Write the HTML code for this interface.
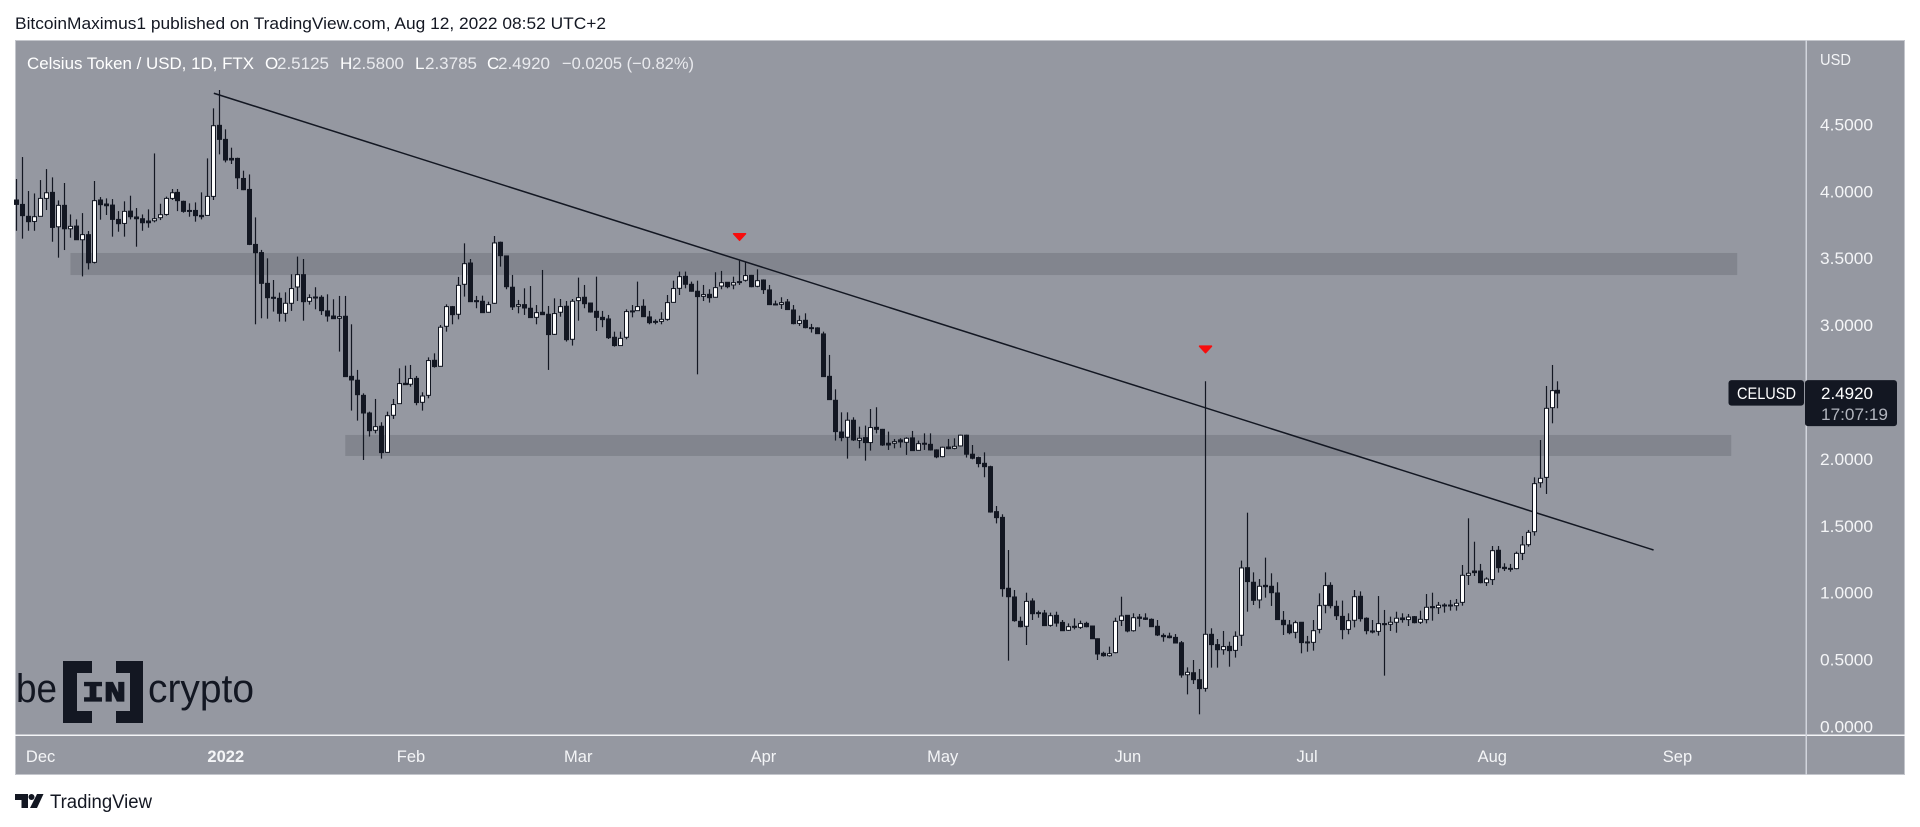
<!DOCTYPE html>
<html lang="en">
<head>
<meta charset="utf-8">
<title>Celsius Token / USD chart</title>
<style>
html,body{margin:0;padding:0;background:#fff;width:1920px;height:827px;overflow:hidden}
svg{display:block}
text{font-family:"Liberation Sans",sans-serif}
</style>
</head>
<body>
<svg id="chart" width="1920" height="827" viewBox="0 0 1920 827" xmlns="http://www.w3.org/2000/svg">
  <rect x="0" y="0" width="1920" height="827" fill="#ffffff"/>
  <text x="15" y="29" font-size="17" fill="#131722" textLength="591" lengthAdjust="spacingAndGlyphs">BitcoinMaximus1 published on TradingView.com, Aug 12, 2022 08:52 UTC+2</text>

  <rect x="15" y="40" width="1890" height="735" fill="#9598a1"/>
  <rect x="15.5" y="40.5" width="1889" height="734" fill="none" stroke="#c4c6cc" stroke-width="1"/>

  <g id="zones"></g>
  <g id="trend"></g>
  <g id="candles"></g>
  <g id="markers"></g>

  <g font-size="17">
    <text x="27" y="69" fill="#ffffff" textLength="227" lengthAdjust="spacingAndGlyphs">Celsius Token / USD, 1D, FTX</text>
    <text x="265" y="69" fill="#ffffff">O</text>
    <text x="277" y="69" fill="#e9eaee" textLength="52" lengthAdjust="spacingAndGlyphs">2.5125</text>
    <text x="340" y="69" fill="#ffffff">H</text>
    <text x="352" y="69" fill="#e9eaee" textLength="52" lengthAdjust="spacingAndGlyphs">2.5800</text>
    <text x="415" y="69" fill="#ffffff">L</text>
    <text x="425" y="69" fill="#e9eaee" textLength="52" lengthAdjust="spacingAndGlyphs">2.3785</text>
    <text x="487" y="69" fill="#ffffff">C</text>
    <text x="498" y="69" fill="#e9eaee" textLength="52" lengthAdjust="spacingAndGlyphs">2.4920</text>
    <text x="562" y="69" fill="#e9eaee" textLength="132" lengthAdjust="spacingAndGlyphs">−0.0205 (−0.82%)</text>
  </g>

  <g>
    <text x="16" y="702" font-size="40" fill="#131722" textLength="41" lengthAdjust="spacingAndGlyphs">be</text>
    <path fill="#131722" d="M63 661h29v12H77v38h15v12H63z"/>
    <path fill="#131722" d="M116 661h27v62h-27v-12h14v-38h-14z"/>
    <text x="82" y="701" font-size="28" font-weight="bold" fill="#131722" stroke="#131722" stroke-width="1.2" style="font-family:'Liberation Mono',monospace" textLength="44" lengthAdjust="spacingAndGlyphs">IN</text>
    <text x="148" y="702" font-size="40" fill="#131722" textLength="106" lengthAdjust="spacingAndGlyphs">crypto</text>
  </g>

  <rect x="15" y="734.5" width="1890" height="1.5" fill="#f4f5f7"/>
  <g id="timeAxis"></g>

  <rect x="1805.5" y="40" width="1.5" height="735" fill="#d1d4dc"/>
  <text x="1820" y="65" font-size="16" fill="#f4f5f7" textLength="31" lengthAdjust="spacingAndGlyphs">USD</text>
  <g id="priceAxis"></g>

  <g id="lastPrice"></g>

  <g>
    <path fill="#131722" d="M15 794h13v14h-6.500v-8H15z"/>
    <circle cx="31.500" cy="797" r="3" fill="#131722"/>
    <path fill="#131722" d="M37 794h6.500l-6.500 14h-7z"/>
    <text x="50" y="808" font-size="19" fill="#131722" textLength="102" lengthAdjust="spacingAndGlyphs">TradingView</text>
  </g>
</svg>

<script>
const firstDate = '2021-11-27';
const opens = [
3.935,3.902,3.813,3.775,3.813,3.947,3.992,3.735,3.895,3.720,
3.740,3.638,3.676,3.469,3.935,3.905,3.897,3.790,3.760,3.852,
3.808,3.795,3.778,3.780,3.803,3.827,3.947,3.992,3.925,3.857,
3.857,3.820,3.820,3.962,4.493,4.388,4.246,4.246,4.096,4.014,
3.603,3.542,3.312,3.208,3.200,3.088,3.163,3.285,3.377,3.178,
3.210,3.208,3.106,3.068,3.051,3.066,2.617,2.588,2.475,2.343,
2.214,2.244,2.049,2.326,2.413,2.565,2.558,2.602,2.423,2.475,
2.737,2.692,2.991,3.138,3.081,3.305,3.464,3.183,3.178,3.096,
3.163,3.619,3.517,3.283,3.141,3.153,3.126,3.058,3.096,3.081,
2.931,3.096,3.141,2.894,3.183,3.208,3.165,3.103,3.058,3.046,
2.909,2.847,2.909,3.106,3.108,3.141,3.061,3.028,3.028,3.043,
3.170,3.275,3.365,3.305,3.253,3.215,3.230,3.208,3.292,3.320,
3.300,3.325,3.335,3.372,3.290,3.337,3.263,3.158,3.155,3.173,
3.113,3.013,3.036,2.981,2.979,2.934,2.617,2.438,2.201,2.162,
2.289,2.139,2.159,2.122,2.236,2.221,2.117,2.117,2.142,2.124,
2.157,2.064,2.117,2.109,2.067,2.017,2.089,2.079,2.097,2.177,
2.035,2.010,1.967,1.942,1.606,1.563,1.033,0.968,0.786,0.749,
0.938,0.851,0.848,0.756,0.831,0.778,0.719,0.749,0.741,0.771,
0.751,0.656,0.547,0.529,0.552,0.793,0.831,0.716,0.818,0.811,
0.801,0.749,0.681,0.676,0.666,0.626,0.387,0.402,0.350,0.285,
0.689,0.612,0.574,0.599,0.569,0.682,1.187,1.078,0.946,1.055,
1.048,0.998,0.794,0.759,0.704,0.779,0.632,0.629,0.726,0.906,
1.055,0.898,0.823,0.726,0.794,0.973,0.809,0.714,0.711,0.769,
0.764,0.779,0.811,0.799,0.821,0.779,0.799,0.896,0.888,0.908,
0.908,0.903,0.928,1.130,1.162,1.162,1.075,1.098,1.317,1.190,
1.182,1.180,1.294,1.359,1.456,1.822,1.862,2.383,2.5125];
const highs = [
4.092,4.256,4.002,3.984,4.084,4.166,4.104,3.932,4.062,3.827,
3.790,3.837,3.703,4.077,3.957,3.947,3.942,3.852,3.925,3.967,
3.875,3.827,3.865,4.283,3.907,3.960,4.017,4.017,3.930,3.910,
3.917,3.992,4.246,4.620,4.757,4.463,4.326,4.251,4.154,4.126,
3.805,3.562,3.499,3.337,3.243,3.245,3.380,3.512,3.494,3.230,
3.283,3.223,3.230,3.193,3.218,3.218,3.006,2.665,2.490,2.353,
2.448,2.274,2.353,2.448,2.677,2.697,2.702,2.620,2.498,2.759,
2.789,3.001,3.155,3.143,3.360,3.611,3.494,3.218,3.220,3.175,
3.666,3.624,3.517,3.375,3.188,3.275,3.292,3.150,3.412,3.143,
3.200,3.195,3.180,3.195,3.355,3.300,3.168,3.362,3.106,3.076,
2.951,2.951,3.118,3.150,3.325,3.193,3.106,3.043,3.096,3.225,
3.332,3.400,3.400,3.325,3.332,3.300,3.268,3.395,3.405,3.320,
3.362,3.482,3.474,3.375,3.417,3.342,3.300,3.183,3.208,3.195,
3.150,3.071,3.088,3.009,2.984,2.951,2.777,2.520,2.348,2.348,
2.311,2.241,2.249,2.373,2.386,2.224,2.204,2.149,2.154,2.162,
2.209,2.137,2.191,2.191,2.072,2.092,2.149,2.154,2.181,2.181,
2.104,2.017,2.049,1.949,1.648,1.586,1.319,1.020,0.821,1.000,
0.958,0.866,0.871,0.851,0.858,0.796,0.771,0.808,0.791,0.783,
0.754,0.659,0.559,0.597,0.813,0.970,0.833,0.846,0.841,0.846,
0.808,0.796,0.696,0.701,0.691,0.639,0.442,0.497,0.430,2.580,
0.734,0.654,0.714,0.634,0.711,1.240,1.598,1.152,1.102,1.262,
1.145,1.078,0.863,0.796,0.791,0.779,0.677,0.796,0.995,1.152,
1.078,0.941,0.941,0.846,1.020,1.010,0.816,0.796,0.975,0.871,
0.821,0.858,0.846,0.841,0.826,0.866,0.990,1.000,0.931,0.921,
0.946,0.953,1.207,1.556,1.381,1.215,1.115,1.349,1.349,1.220,
1.215,1.307,1.424,1.469,1.862,2.141,2.545,2.702,2.580];
const lows = [
3.705,3.646,3.705,3.705,3.813,3.860,3.623,3.504,3.561,3.653,
3.636,3.364,3.416,3.461,3.788,3.823,3.661,3.698,3.661,3.790,
3.586,3.705,3.728,3.768,3.785,3.818,3.935,3.852,3.840,3.810,
3.773,3.790,3.818,3.935,4.276,4.216,4.204,4.017,4.009,3.598,
3.006,3.051,3.048,3.101,3.026,3.026,3.106,3.180,3.033,3.153,
3.118,3.076,3.026,3.046,2.802,2.615,2.361,2.286,1.992,2.167,
2.191,2.002,2.047,2.299,2.411,2.553,2.540,2.401,2.361,2.453,
2.682,2.690,2.951,3.006,3.043,3.213,3.175,3.126,3.093,3.093,
3.158,3.437,3.268,3.113,3.088,3.076,3.056,3.006,3.076,2.665,
2.926,3.063,2.877,2.847,3.033,3.126,3.093,2.956,2.984,2.896,
2.839,2.844,2.894,3.058,3.106,3.063,3.006,3.006,3.006,3.033,
3.168,3.225,3.275,3.250,2.632,3.180,3.168,3.205,3.268,3.275,
3.268,3.300,3.325,3.283,3.283,3.233,3.150,3.148,3.121,3.113,
3.006,2.994,2.976,2.944,2.934,2.615,2.441,2.137,2.132,2.002,
2.134,2.079,1.987,2.062,2.191,2.097,2.067,2.079,2.084,2.030,
2.062,2.062,2.067,2.062,2.005,2.012,2.072,2.072,2.092,2.010,
1.997,1.937,1.863,1.598,1.518,0.970,0.492,0.783,0.741,0.609,
0.796,0.813,0.751,0.746,0.746,0.714,0.714,0.726,0.729,0.741,
0.654,0.497,0.522,0.522,0.547,0.751,0.704,0.709,0.746,0.796,
0.746,0.676,0.634,0.659,0.622,0.365,0.240,0.318,0.091,0.261,
0.440,0.440,0.537,0.447,0.515,0.602,0.858,0.908,0.883,0.963,
0.901,0.796,0.684,0.689,0.659,0.547,0.559,0.567,0.696,0.846,
0.883,0.796,0.652,0.689,0.741,0.784,0.689,0.696,0.679,0.380,
0.714,0.701,0.776,0.751,0.771,0.766,0.771,0.791,0.841,0.851,
0.866,0.866,0.903,1.058,1.125,1.070,1.050,1.058,1.150,1.162,
1.157,1.175,1.244,1.344,1.426,1.785,1.738,2.266,2.3785];
const closes = [
3.902,3.818,3.773,3.810,3.947,3.989,3.730,3.895,3.720,3.738,
3.638,3.676,3.466,3.930,3.900,3.892,3.790,3.758,3.850,3.810,
3.795,3.765,3.765,3.795,3.825,3.947,3.989,3.930,3.850,3.850,
3.818,3.810,3.962,4.490,4.388,4.234,4.234,4.101,4.012,3.603,
3.541,3.312,3.205,3.200,3.088,3.163,3.273,3.377,3.175,3.205,
3.203,3.108,3.068,3.048,3.063,2.615,2.590,2.480,2.343,2.211,
2.241,2.047,2.323,2.406,2.563,2.555,2.600,2.421,2.470,2.735,
2.690,2.984,3.138,3.078,3.297,3.459,3.175,3.175,3.093,3.153,
3.614,3.519,3.287,3.136,3.153,3.128,3.056,3.093,3.078,2.929,
3.086,3.138,2.891,3.178,3.205,3.160,3.098,3.058,3.041,2.906,
2.847,2.901,3.101,3.101,3.138,3.063,3.018,3.021,3.043,3.168,
3.273,3.362,3.305,3.253,3.213,3.228,3.205,3.280,3.317,3.287,
3.317,3.320,3.370,3.287,3.332,3.265,3.153,3.153,3.168,3.116,
3.011,3.033,2.981,2.976,2.936,2.615,2.443,2.204,2.159,2.289,
2.142,2.154,2.122,2.234,2.221,2.104,2.104,2.129,2.127,2.154,
2.062,2.114,2.112,2.067,2.015,2.087,2.077,2.094,2.177,2.035,
2.005,1.965,1.942,1.603,1.561,1.030,0.970,0.791,0.746,0.935,
0.843,0.846,0.754,0.828,0.773,0.716,0.746,0.741,0.769,0.746,
0.656,0.542,0.529,0.544,0.786,0.826,0.714,0.813,0.808,0.801,
0.746,0.684,0.671,0.664,0.624,0.385,0.405,0.350,0.283,0.689,
0.612,0.574,0.597,0.567,0.674,1.185,1.083,0.943,1.048,1.045,
1.000,0.799,0.761,0.701,0.776,0.627,0.627,0.716,0.903,1.053,
0.903,0.828,0.724,0.791,0.970,0.806,0.716,0.706,0.769,0.761,
0.779,0.809,0.799,0.818,0.776,0.801,0.891,0.888,0.906,0.901,
0.903,0.921,1.130,1.145,1.150,1.075,1.102,1.314,1.187,1.180,
1.175,1.294,1.357,1.451,1.815,1.855,2.378,2.510,2.492];
const priceTicks = [0, 0.5, 1, 1.5, 2, 3, 3.5, 4, 4.5];
const priceTickLabels = ['0.0000', '0.5000', '1.0000', '1.5000', '2.0000', '3.0000', '3.5000', '4.0000', '4.5000'];
const timeTickDates = ['2021-12-01', '2022-01-01', '2022-02-01', '2022-03-01', '2022-04-01', '2022-05-01', '2022-06-01', '2022-07-01', '2022-08-01', '2022-09-01'];
const timeTickLabels = ['Dec', '2022', 'Feb', 'Mar', 'Apr', 'May', 'Jun', 'Jul', 'Aug', 'Sep'];
const zoneStartDates = ['2021-12-06', '2022-01-21'];
const zoneEndDates = ['2022-09-11', '2022-09-10'];
const zoneTopPrices = [3.539, 2.179];
const zoneBottomPrices = [3.374, 2.022];
const trendDates = ['2021-12-30', '2022-08-28'];
const trendPrices = [4.733, 1.319];
const markerDates = ['2022-03-28', '2022-06-14'];
const markerPrices = [3.660, 2.820];
const lastCountdown = '17:07:19';
const symbolName = 'CELUSD';

const NS = 'http://www.w3.org/2000/svg';
function xOf(i) { return 16.7 + 5.974 * i; }
function yOf(p) { return 726.5 - 133.8 * p; }
function dayIndex(d) { return Math.round((Date.parse(d) - Date.parse(firstDate)) / 86400000); }
function make(tag, attrs) {
  const el = document.createElementNS(NS, tag);
  for (const k in attrs) el.setAttribute(k, attrs[k]);
  return el;
}

const zonesLayer = document.getElementById('zones');
zoneStartDates.forEach(function (d, i) {
  const x1 = xOf(dayIndex(d));
  const x2 = xOf(dayIndex(zoneEndDates[i]));
  const y1 = yOf(zoneTopPrices[i]);
  const y2 = yOf(zoneBottomPrices[i]);
  const r = make('rect', { x: x1, y: y1, width: x2 - x1, height: y2 - y1, fill: '#82858e' });
  
  
  zonesLayer.appendChild(r);
});

const trendLine = make('line', {
  x1: xOf(dayIndex(trendDates[0])), y1: yOf(trendPrices[0]),
  x2: xOf(dayIndex(trendDates[1])), y2: yOf(trendPrices[1]),
  stroke: '#131722', 'stroke-width': 1.5
});


document.getElementById('trend').appendChild(trendLine);

const candleLayer = document.getElementById('candles');
opens.forEach(function (o, i) {
  const c = closes[i];
  const x = Math.floor(xOf(i)) + 0.5;
  const up = c >= o;
  const g = make('g', {});
  
  
  const wick = make('line', { x1: x, x2: x, y1: yOf(highs[i]), y2: yOf(lows[i]), stroke: '#131722', 'stroke-width': 1.2 });
  
  
  g.appendChild(wick);
  const top = yOf(Math.max(o, c));
  const bottom = yOf(Math.min(o, c));
  const body = up
    ? make('rect', { x: x - 2, y: top, width: 4, height: Math.max(bottom - top, 1.5), fill: '#ffffff', stroke: '#131722', 'stroke-width': 1 })
    : make('rect', { x: x - 2.5, y: top - 0.5, width: 5, height: Math.max(bottom - top + 1, 2), fill: '#131722' });
  
  
  g.appendChild(body);
  candleLayer.appendChild(g);
});

const markerLayer = document.getElementById('markers');
markerDates.forEach(function (d, i) {
  const x = xOf(dayIndex(d));
  const y = yOf(markerPrices[i]);
  const tri = make('path', {
    d: 'M' + (x - 6) + ' ' + (y - 3) + 'L' + (x + 6) + ' ' + (y - 3) + 'L' + x + ' ' + (y + 3.5) + 'Z',
    fill: '#f70d0d', stroke: '#f70d0d', 'stroke-width': 1.5, 'stroke-linejoin': 'round'
  });
  
  
  markerLayer.appendChild(tri);
});

const priceLayer = document.getElementById('priceAxis');
priceTicks.forEach(function (p, i) {
  const t = make('text', { x: 1820, y: yOf(p) + 6, 'font-size': 17, fill: '#f4f5f7', textLength: 53, lengthAdjust: 'spacingAndGlyphs' });
  
  
  t.textContent = priceTickLabels[i];
  priceLayer.appendChild(t);
});

const timeLayer = document.getElementById('timeAxis');
timeTickDates.forEach(function (d, i) {
  const t = make('text', { x: xOf(dayIndex(d)), y: 762, 'font-size': 16.5, fill: '#f4f5f7', 'text-anchor': 'middle', 'font-weight': timeTickLabels[i] === '2022' ? 'bold' : 'normal' });
  
  
  t.textContent = timeTickLabels[i];
  timeLayer.appendChild(t);
});

const lastLayer = document.getElementById('lastPrice');
const lastClose = closes[closes.length - 1];
const lastY = yOf(lastClose);
const symBox = make('rect', { x: 1728.5, y: lastY - 13, width: 75.5, height: 25.5, rx: 3, fill: '#131722' });


lastLayer.appendChild(symBox);
const symText = make('text', { x: 1737, y: lastY + 6, 'font-size': 16.5, fill: '#ffffff', textLength: 59, lengthAdjust: 'spacingAndGlyphs' });


symText.textContent = symbolName;
lastLayer.appendChild(symText);
const priceBox = make('rect', { x: 1805, y: lastY - 13, width: 92, height: 46, rx: 3, fill: '#131722' });


lastLayer.appendChild(priceBox);
const priceText = make('text', { x: 1821, y: lastY + 6, 'font-size': 17, fill: '#ffffff', textLength: 52, lengthAdjust: 'spacingAndGlyphs' });


priceText.textContent = lastClose.toFixed(4);
lastLayer.appendChild(priceText);
const countText = make('text', { x: 1821, y: lastY + 27, 'font-size': 17, fill: '#b2b5be', textLength: 67, lengthAdjust: 'spacingAndGlyphs' });


countText.textContent = lastCountdown;
lastLayer.appendChild(countText);
</script>
</body>
</html>
